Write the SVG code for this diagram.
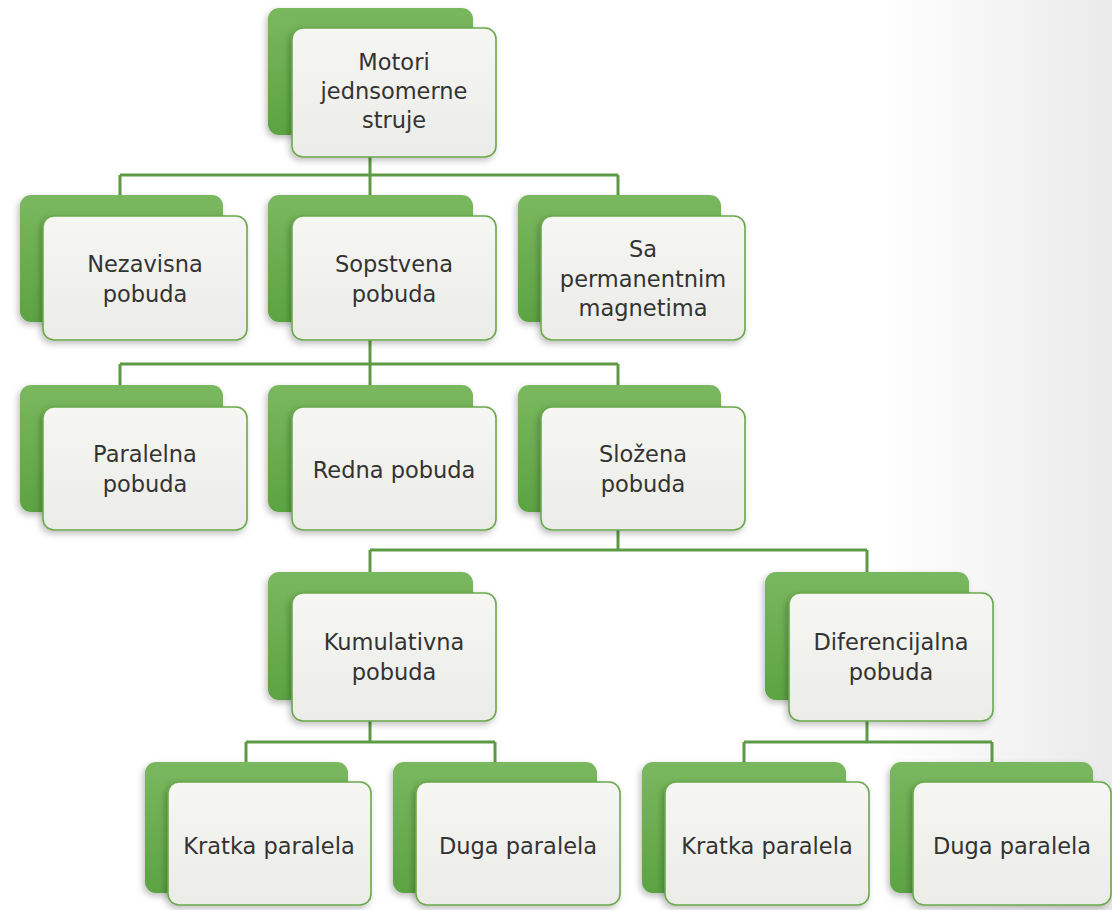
<svg xmlns="http://www.w3.org/2000/svg" width="1112" height="910" viewBox="0 0 1112 910">
  <defs>
    <linearGradient id="bg" x1="0" y1="0" x2="1" y2="0">
      <stop offset="0" stop-color="#ffffff"/>
      <stop offset="1" stop-color="#eaeaea"/>
    </linearGradient>
    <linearGradient id="green" x1="0" y1="0" x2="0" y2="1">
      <stop offset="0" stop-color="#7ab85f"/>
      <stop offset="1" stop-color="#5ca342"/>
    </linearGradient>
    <linearGradient id="card" x1="0" y1="0" x2="0" y2="1">
      <stop offset="0" stop-color="#f6f6f3"/>
      <stop offset="1" stop-color="#ebebe7"/>
    </linearGradient>
    <filter id="shadow" x="-20%" y="-20%" width="140%" height="140%">
      <feDropShadow dx="-2" dy="3" stdDeviation="3" flood-color="#000" flood-opacity="0.25"/>
    </filter>
  </defs>
  <style>
    .back { fill: url(#green); filter: url(#shadow); }
    .front { fill: url(#card); stroke: #6aa84c; stroke-width: 1.6; filter: url(#shadow); }
    .label { font-family: "DejaVu Sans", "Open Sans", sans-serif; font-size: 22.5px; fill: #333333; text-anchor: middle; }
    .link { fill: none; stroke: #5e9a44; stroke-width: 3; }
  </style>

  <!-- page background, fading to grey at the right edge -->
  <rect x="0" y="0" width="1112" height="910" fill="#ffffff"/>
  <rect x="880" y="0" width="232" height="910" fill="url(#bg)"/>

  <!-- tree connectors -->
  <g id="connectors">
    <path class="link" d="M370 150 V175 M120 175 H618 M120 175 V200 M370 175 V200 M618 175 V200"/>
    <path class="link" d="M370 330 V364 M120 364 H618 M120 364 V390 M370 364 V390 M618 364 V390"/>
    <path class="link" d="M618 520 V550 M370 550 H867 M370 550 V577 M867 550 V577"/>
    <path class="link" d="M370 710 V742 M246 742 H495 M246 742 V767 M495 742 V767"/>
    <path class="link" d="M867 710 V742 M744 742 H992 M744 742 V767 M992 742 V767"/>
  </g>

  <!-- root -->
  <g id="node-motori">
    <rect class="back" x="268" y="8" width="205" height="127" rx="11"/>
    <rect class="front" x="292" y="28" width="204" height="129" rx="11"/>
    <text class="label" x="394" y="70">Motori</text>
    <text class="label" x="394" y="99">jednsomerne</text>
    <text class="label" x="394" y="128">struje</text>
  </g>

  <!-- first level -->
  <g id="node-nezavisna">
    <rect class="back" x="20" y="195" width="203" height="127" rx="11"/>
    <rect class="front" x="43" y="216" width="204" height="124" rx="11"/>
    <text class="label" x="145" y="272">Nezavisna</text>
    <text class="label" x="145" y="302">pobuda</text>
  </g>
  <g id="node-sopstvena">
    <rect class="back" x="268" y="195" width="205" height="127" rx="11"/>
    <rect class="front" x="292" y="216" width="204" height="124" rx="11"/>
    <text class="label" x="394" y="272">Sopstvena</text>
    <text class="label" x="394" y="302">pobuda</text>
  </g>
  <g id="node-permanentni">
    <rect class="back" x="518" y="195" width="203" height="127" rx="11"/>
    <rect class="front" x="541" y="216" width="204" height="124" rx="11"/>
    <text class="label" x="643" y="257">Sa</text>
    <text class="label" x="643" y="287">permanentnim</text>
    <text class="label" x="643" y="316">magnetima</text>
  </g>

  <!-- second level -->
  <g id="node-paralelna">
    <rect class="back" x="20" y="385" width="203" height="127" rx="11"/>
    <rect class="front" x="43" y="407" width="204" height="123" rx="11"/>
    <text class="label" x="145" y="462">Paralelna</text>
    <text class="label" x="145" y="492">pobuda</text>
  </g>
  <g id="node-redna">
    <rect class="back" x="268" y="385" width="205" height="127" rx="11"/>
    <rect class="front" x="292" y="407" width="204" height="123" rx="11"/>
    <text class="label" x="394" y="478">Redna pobuda</text>
  </g>
  <g id="node-slozena">
    <rect class="back" x="518" y="385" width="203" height="127" rx="11"/>
    <rect class="front" x="541" y="407" width="204" height="123" rx="11"/>
    <text class="label" x="643" y="462">Složena</text>
    <text class="label" x="643" y="492">pobuda</text>
  </g>

  <!-- third level -->
  <g id="node-kumulativna">
    <rect class="back" x="268" y="572" width="205" height="128" rx="11"/>
    <rect class="front" x="292" y="593" width="204" height="128" rx="11"/>
    <text class="label" x="394" y="650">Kumulativna</text>
    <text class="label" x="394" y="680">pobuda</text>
  </g>
  <g id="node-diferencijalna">
    <rect class="back" x="765" y="572" width="204" height="128" rx="11"/>
    <rect class="front" x="789" y="593" width="204" height="128" rx="11"/>
    <text class="label" x="891" y="650">Diferencijalna</text>
    <text class="label" x="891" y="680">pobuda</text>
  </g>

  <!-- leaves -->
  <g id="node-kratka-1">
    <rect class="back" x="145" y="762" width="203" height="131" rx="11"/>
    <rect class="front" x="168" y="782" width="203" height="123" rx="11"/>
    <text class="label" x="269" y="854">Kratka paralela</text>
  </g>
  <g id="node-duga-1">
    <rect class="back" x="393" y="762" width="204" height="131" rx="11"/>
    <rect class="front" x="416" y="782" width="204" height="123" rx="11"/>
    <text class="label" x="518" y="854">Duga paralela</text>
  </g>
  <g id="node-kratka-2">
    <rect class="back" x="642" y="762" width="204" height="131" rx="11"/>
    <rect class="front" x="665" y="782" width="204" height="123" rx="11"/>
    <text class="label" x="767" y="854">Kratka paralela</text>
  </g>
  <g id="node-duga-2">
    <rect class="back" x="890" y="762" width="203" height="131" rx="11"/>
    <rect class="front" x="913" y="782" width="198" height="123" rx="11"/>
    <text class="label" x="1012" y="854">Duga paralela</text>
  </g>
</svg>
